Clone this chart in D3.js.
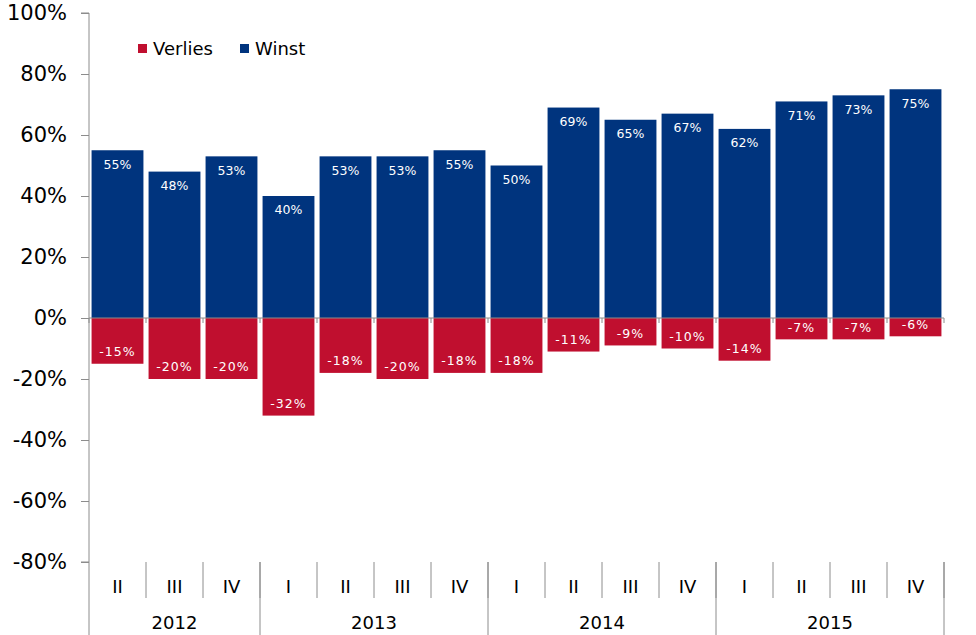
<!DOCTYPE html>
<html><head><meta charset="utf-8">
<script src="https://cdn.jsdelivr.net/npm/d3@7/dist/d3.min.js"></script>
<style>body{margin:0;background:#fff}svg{display:block;font-family:"DejaVu Sans",Verdana,sans-serif}</style>
</head><body><svg id="c" width="976" height="635"></svg>
<script>
const quarters = ["II","III","IV","I","II","III","IV","I","II","III","IV","I","II","III","IV"];
const years = [{year:"2012",from:0,to:3},{year:"2013",from:3,to:7},{year:"2014",from:7,to:11},{year:"2015",from:11,to:15}];
const winst = [55,48,53,40,53,53,55,50,69,65,67,62,71,73,75];
const verlies = [-15,-20,-20,-32,-18,-20,-18,-18,-11,-9,-10,-14,-7,-7,-6];
const yTicks = [-80,-60,-40,-20,0,20,40,60,80,100];
const seriesNames = ["Verlies","Winst"];
const colors = {Verlies:"#C00F2F", Winst:"#00347E"};

(function(){
const svg = d3.select("#c");
const pL = 89, pR = 944, pT = 13, pB = 562;
const y = d3.scaleLinear().domain([-80,100]).range([pB, pT]);
const idx = d3.range(quarters.length);
const x = d3.scaleBand().domain(idx).range([pL,pR]).paddingInner(0.09).paddingOuter(0.045);
const step = (pR-pL)/quarters.length;
const bx = i => pL + i*step;
const axisColor = "#8c8c8c";

// y axis
const yAxis = svg.append("g").attr("transform",`translate(${pL},0)`)
  .call(d3.axisLeft(y).tickValues(yTicks).tickFormat(d=>d+"%").tickSize(8).tickPadding(14));
yAxis.select(".domain").attr("stroke",axisColor).attr("d",`M-8,${pT}H0V${pB}H-8`);
yAxis.selectAll(".tick line").attr("stroke",axisColor);
yAxis.selectAll(".tick text").attr("font-size",21).attr("fill","#000").attr("font-family","DejaVu Sans, Verdana, sans-serif");
svg.append("line").attr("x1",pL).attr("x2",pL).attr("y1",pB).attr("y2",635).attr("stroke",axisColor);

// bars
svg.append("g").selectAll("rect").data(winst).join("rect")
  .attr("x",(d,i)=>x(i)).attr("width",x.bandwidth())
  .attr("y",d=>y(d)).attr("height",d=>y(0)-y(d)).attr("fill",colors.Winst);
svg.append("g").selectAll("rect").data(verlies).join("rect")
  .attr("x",(d,i)=>x(i)).attr("width",x.bandwidth())
  .attr("y",y(0)).attr("height",d=>y(d)-y(0)).attr("fill",colors.Verlies);

// zero line and ticks
svg.append("line").attr("x1",pL).attr("x2",pR).attr("y1",y(0)).attr("y2",y(0)).attr("stroke",axisColor);
svg.append("g").selectAll("line").data(d3.range(quarters.length+1)).join("line")
  .attr("x1",bx).attr("x2",bx).attr("y1",y(0)).attr("y2",y(0)+5).attr("stroke",axisColor);

// labels
svg.append("g").selectAll("text").data(winst).join("text")
  .attr("x",(d,i)=>x(i)+x.bandwidth()/2).attr("y",d=>y(d)+14).attr("dy","0.35em")
  .attr("text-anchor","middle").attr("fill","#fff").attr("font-size",12.5).text(d=>d+"%");
svg.append("g").selectAll("text").data(verlies).join("text")
  .attr("x",(d,i)=>x(i)+x.bandwidth()/2).attr("y",d=>y(d)-12).attr("dy","0.35em")
  .attr("text-anchor","middle").attr("fill","#fff").attr("font-size",12.5).attr("letter-spacing",1).text(d=>"-"+Math.abs(d)+"%");

// category axis
svg.append("g").selectAll("line").data(d3.range(1,quarters.length+1)).join("line")
  .attr("x1",bx).attr("x2",bx).attr("y1",pB).attr("y2",598).attr("stroke",axisColor);
svg.append("g").selectAll("line").data(years).join("line")
  .attr("x1",d=>bx(d.to)).attr("x2",d=>bx(d.to)).attr("y1",pB).attr("y2",635).attr("stroke",axisColor);
svg.append("g").selectAll("text").data(quarters).join("text")
  .attr("x",(d,i)=>bx(i)+step/2).attr("y",587).attr("dy","0.35em").attr("text-anchor","middle")
  .attr("font-size",18).attr("fill","#000").text(d=>d);
svg.append("g").selectAll("text").data(years).join("text")
  .attr("x",d=>(bx(d.from)+bx(d.to))/2).attr("y",623).attr("dy","0.35em").attr("text-anchor","middle")
  .attr("font-size",18).attr("fill","#000").text(d=>d.year);

// legend
const lx = [138,240];
const lg = svg.append("g").selectAll("g").data(seriesNames).join("g").attr("transform",(d,i)=>`translate(${lx[i]},44)`);
lg.append("rect").attr("width",9).attr("height",9).attr("fill",d=>colors[d]);
lg.append("text").attr("x",15).attr("y",5).attr("dy","0.35em").attr("font-size",18).attr("fill","#000").text(d=>d);
})();
</script></body></html>
